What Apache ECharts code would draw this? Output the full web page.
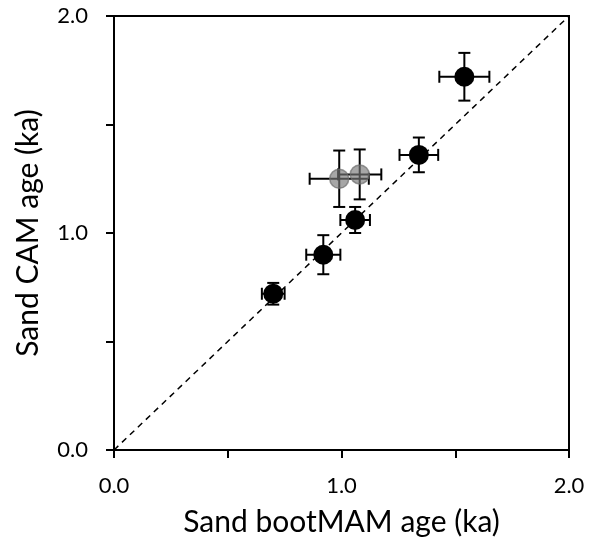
<!DOCTYPE html>
<html>
<head>
<meta charset="utf-8">
<script src="https://cdn.jsdelivr.net/npm/echarts@6/dist/echarts.min.js"></script>
<style>
  html, body { margin: 0; padding: 0; background: #fff; }
  #chart { width: 590px; height: 555px; }
</style>
</head>
<body>
<div id="chart"></div>
<script>
// main samples (black)
var bootMAM = [0.70, 0.92, 1.06, 1.34, 1.54];
var bootMAMErr = [0.05, 0.075, 0.065, 0.085, 0.11];
var cam = [0.72, 0.90, 1.06, 1.36, 1.72];
var camErr = [0.05, 0.09, 0.06, 0.08, 0.11];
// outliers (grey)
var bootMAM2 = [0.99, 1.08];
var bootMAM2Err = [0.13, 0.095];
var cam2 = [1.25, 1.27];
var cam2Err = [0.13, 0.115];
// 1:1 line
var oneToOne = [[0, 0], [2, 2]];
var tickLabels = { '0': '0.0', '1': '1.0', '2': '2.0' };

var font = 'Lato';

function errData(x, xe, y, ye) {
    return x.map(function (v, i) { return [v, y[i], xe[i], ye[i]]; });
}
function pts(x, y) {
    return x.map(function (v, i) { return [v, y[i]]; });
}

function renderErr(params, api) {
    var x = api.value(0), y = api.value(1), xe = api.value(2), ye = api.value(3);
    var l = api.coord([x - xe, y]), r = api.coord([x + xe, y]);
    var t = api.coord([x, y + ye]), b = api.coord([x, y - ye]);
    var c = 6;
    var st = { stroke: '#000', lineWidth: 2 };
    var segs = [
        [l, r], [t, b],
        [[l[0], l[1] - c], [l[0], l[1] + c]],
        [[r[0], r[1] - c], [r[0], r[1] + c]],
        [[t[0] - c, t[1]], [t[0] + c, t[1]]],
        [[b[0] - c, b[1]], [b[0] + c, b[1]]]
    ];
    return {
        type: 'group',
        children: segs.map(function (s) {
            return { type: 'line', shape: { x1: s[0][0], y1: s[0][1], x2: s[1][0], y2: s[1][1] }, style: st };
        })
    };
}

var axisCommon = {
    type: 'value', min: 0, max: 2, interval: 0.5,
    splitLine: { show: false },
    axisLine: { onZero: false, lineStyle: { color: '#000', width: 2 } },
    axisTick: { show: true, inside: false, length: 8, lineStyle: { color: '#000', width: 2 } },
    axisLabel: {
        color: '#000', fontFamily: font, fontSize: 22,
        formatter: function (v) { return tickLabels[String(v)] || ''; }
    },
    nameLocation: 'middle',
    nameTextStyle: { color: '#000', fontFamily: font, fontSize: 30 }
};

var myChart = echarts.init(document.getElementById('chart'));
myChart.setOption({
    animation: false,
    grid: { left: 114, right: 21, top: 16, bottom: 105, show: true, borderColor: '#000', borderWidth: 2 },
    xAxis: Object.assign({}, axisCommon, {
        name: 'Sand bootMAM age (ka)', nameGap: 57,
        axisLabel: Object.assign({}, axisCommon.axisLabel, { margin: 25 })
    }),
    yAxis: Object.assign({}, axisCommon, {
        name: 'Sand CAM age (ka)', nameGap: 71,
        axisLabel: Object.assign({}, axisCommon.axisLabel, { margin: 26 })
    }),
    series: [
        {
            type: 'line', data: oneToOne, symbol: 'none', silent: true,
            lineStyle: { color: '#000', width: 1.5, type: [6, 5] }
        },
        {
            type: 'custom', renderItem: renderErr, data: errData(bootMAM2, bootMAM2Err, cam2, cam2Err),
            encode: { x: 0, y: 1 }, z: 3
        },
        {
            type: 'scatter', data: pts(bootMAM2, cam2), symbolSize: 19, z: 4,
            itemStyle: { color: 'rgba(120,120,120,0.65)', borderColor: 'rgba(110,110,110,0.7)', borderWidth: 1.5, opacity: 1 }
        },
        {
            type: 'custom', renderItem: renderErr, data: errData(bootMAM, bootMAMErr, cam, camErr),
            encode: { x: 0, y: 1 }, z: 3
        },
        {
            type: 'scatter', data: pts(bootMAM, cam), symbolSize: 20, z: 5,
            itemStyle: { color: '#000', opacity: 1 }
        }
    ]
});
</script>
</body>
</html>
